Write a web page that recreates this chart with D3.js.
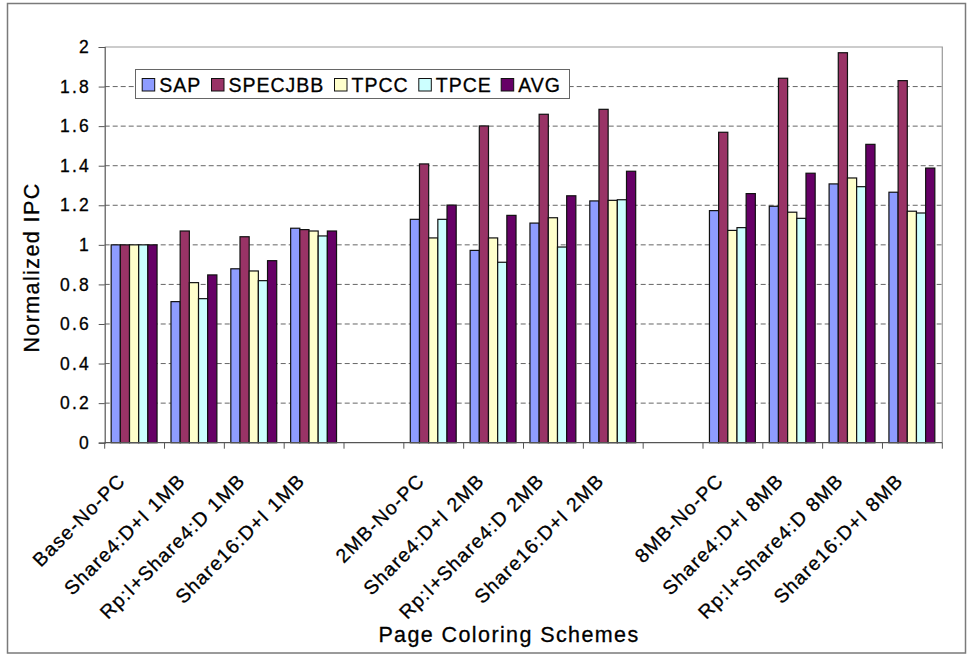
<!DOCTYPE html>
<html>
<head>
<meta charset="utf-8">
<script src="https://cdn.jsdelivr.net/npm/d3@7"></script>
<style>
  html, body { margin: 0; padding: 0; background: #fff; }
  svg { display: block; }
  text { font-family: "Liberation Sans", Arial, Helvetica, sans-serif; fill: #000; stroke: #000; stroke-width: 0.3px; }
</style>
</head>
<body>
<svg id="chart" width="967" height="656"></svg>
<script>
// Schemes, in plot order; a blank slot separates each cache-size group
const categories = [
  "Base-No-PC", "Share4:D+I 1MB", "Rp:I+Share4:D 1MB", "Share16:D+I 1MB",
  "2MB-No-PC", "Share4:D+I 2MB", "Rp:I+Share4:D 2MB", "Share16:D+I 2MB",
  "8MB-No-PC", "Share4:D+I 8MB", "Rp:I+Share4:D 8MB", "Share16:D+I 8MB"
];
const seriesNames = ["SAP", "SPECJBB", "TPCC", "TPCE", "AVG"];
const sap     = [1.00, 0.713, 0.879, 1.084, 1.129, 0.972, 1.110, 1.222, 1.173, 1.195, 1.308, 1.266];
const specjbb = [1.00, 1.070, 1.041, 1.077, 1.409, 1.601, 1.660, 1.685, 1.569, 1.842, 1.971, 1.830];
const tpcc    = [1.00, 0.809, 0.868, 1.070, 1.035, 1.035, 1.137, 1.225, 1.073, 1.165, 1.338, 1.170];
const tpce    = [1.00, 0.728, 0.819, 1.045, 1.129, 0.912, 0.989, 1.228, 1.087, 1.134, 1.294, 1.161];
const avg     = [1.00, 0.848, 0.920, 1.070, 1.201, 1.149, 1.248, 1.372, 1.259, 1.362, 1.508, 1.388];
const yTicks = [0, 0.2, 0.4, 0.6, 0.8, 1, 1.2, 1.4, 1.6, 1.8, 2];
const yTickLabels = ["0", "0.2", "0.4", "0.6", "0.8", "1", "1.2", "1.4", "1.6", "1.8", "2"];
const colors = ["#8e9cff", "#993366", "#ffffcc", "#ccffff", "#660066"];

const values = [sap, specjbb, tpcc, tpce, avg];

// Slot list for the band scale: four schemes, a spacer, four, a spacer, four
const slots = [];
categories.forEach((c, i) => {
  if (i > 0 && i % 4 === 0) slots.push("gap" + i);
  slots.push(c);
});

const svg = d3.select("#chart");
const plot = { left: 104.7, right: 942.3, top: 47, bottom: 442.7 };

svg.append("rect").attr("x", 0).attr("y", 0).attr("width", 967).attr("height", 656).attr("fill", "#fff");
// outer chart frame
svg.append("rect").attr("x", 7.5).attr("y", 3.5).attr("width", 958).attr("height", 649.5)
  .attr("fill", "none").attr("stroke", "#7a7a7a").attr("stroke-width", 1.5);

const x = d3.scaleBand().domain(slots).range([plot.left, plot.right]).padding(0);
const bw = x.bandwidth();
const xs = d3.scaleBand().domain(seriesNames).range([bw * 0.108, bw * 0.875]).padding(0);
const y = d3.scaleLinear().domain([0, 2]).range([plot.bottom, plot.top]);

// dashed gridlines
svg.append("g").selectAll("line")
  .data(yTicks.filter(v => v > 0 && v < 2))
  .join("line")
  .attr("x1", plot.left).attr("x2", plot.right)
  .attr("y1", d => y(d)).attr("y2", d => y(d))
  .attr("stroke", "#666").attr("stroke-width", 1).attr("stroke-dasharray", "5,3");

// plot frame, top and right
svg.append("path")
  .attr("d", `M${plot.left},${plot.top}H${plot.right}V${plot.bottom}`)
  .attr("fill", "none").attr("stroke", "#9a9a9a").attr("stroke-width", 1.2);

// bars
const rows = [];
categories.forEach((c, i) => {
  seriesNames.forEach((s, j) => rows.push({ cat: c, series: s, value: values[j][i], color: colors[j] }));
});
svg.append("g").selectAll("rect")
  .data(rows)
  .join("rect")
  .attr("x", d => x(d.cat) + xs(d.series))
  .attr("y", d => y(d.value))
  .attr("width", xs.bandwidth())
  .attr("height", d => y(0) - y(d.value))
  .attr("fill", d => d.color)
  .attr("stroke", "#111").attr("stroke-width", 1.2);

// y axis
const yAxis = d3.axisLeft(y).tickValues(yTicks)
  .tickFormat((d, i) => yTickLabels[i]).tickSize(6).tickPadding(10);
const gy = svg.append("g").attr("transform", `translate(${plot.left},0)`).call(yAxis);
gy.select(".domain").attr("stroke", "#555").attr("stroke-width", 1.2);
gy.selectAll(".tick line").attr("stroke", "#555");
gy.selectAll(".tick text")
  .attr("font-size", 17.5).attr("letter-spacing", "2.2px").attr("dx", 2.2)
  .attr("font-family", "Liberation Sans, Arial, sans-serif");

// x axis: ticks at slot boundaries, labels under each scheme
const gx = svg.append("g");
gx.append("line").attr("x1", plot.left).attr("x2", plot.right)
  .attr("y1", plot.bottom).attr("y2", plot.bottom)
  .attr("stroke", "#555").attr("stroke-width", 1.2);
gx.selectAll("line.tk")
  .data(slots.map(s => x(s)).concat([plot.right]))
  .join("line").attr("class", "tk")
  .attr("x1", d => d).attr("x2", d => d)
  .attr("y1", plot.bottom).attr("y2", plot.bottom + 6)
  .attr("stroke", "#555");
gx.selectAll("text")
  .data(categories)
  .join("text")
  .attr("transform", d => `translate(${x(d) + bw / 2 - 8},${482}) rotate(-45)`)
  .attr("text-anchor", "end")
  .attr("font-size", 19.5).attr("letter-spacing", "1.2px")
  .text(d => d);

// axis titles
svg.append("text")
  .attr("transform", "translate(38.5,267.5) rotate(-90)")
  .attr("text-anchor", "middle").attr("font-size", 21.5).attr("letter-spacing", "1.4px")
  .text("Normalized IPC");
svg.append("text")
  .attr("x", 509).attr("y", 642)
  .attr("text-anchor", "middle").attr("font-size", 21.5).attr("letter-spacing", "1.4px")
  .text("Page Coloring Schemes");

// legend
const legend = svg.append("g");
legend.append("rect").attr("x", 135.5).attr("y", 69.5).attr("width", 434).attr("height", 29)
  .attr("fill", "#fff").attr("stroke", "#666").attr("stroke-width", 1);
const legendX = [141.7, 211, 334, 418.3, 500.7];
const items = legend.selectAll("g.item").data(seriesNames).join("g").attr("class", "item")
  .attr("transform", (d, i) => `translate(${legendX[i]},0)`);
items.append("rect").attr("x", 0.5).attr("y", 78.5).attr("width", 12.5).attr("height", 12.5)
  .attr("fill", (d, i) => colors[i]).attr("stroke", "#111").attr("stroke-width", 1);
items.append("text").attr("x", 17.5).attr("y", 92).attr("font-size", 19.5)
  .attr("letter-spacing", "1px").text(d => d);
</script>
</body>
</html>
